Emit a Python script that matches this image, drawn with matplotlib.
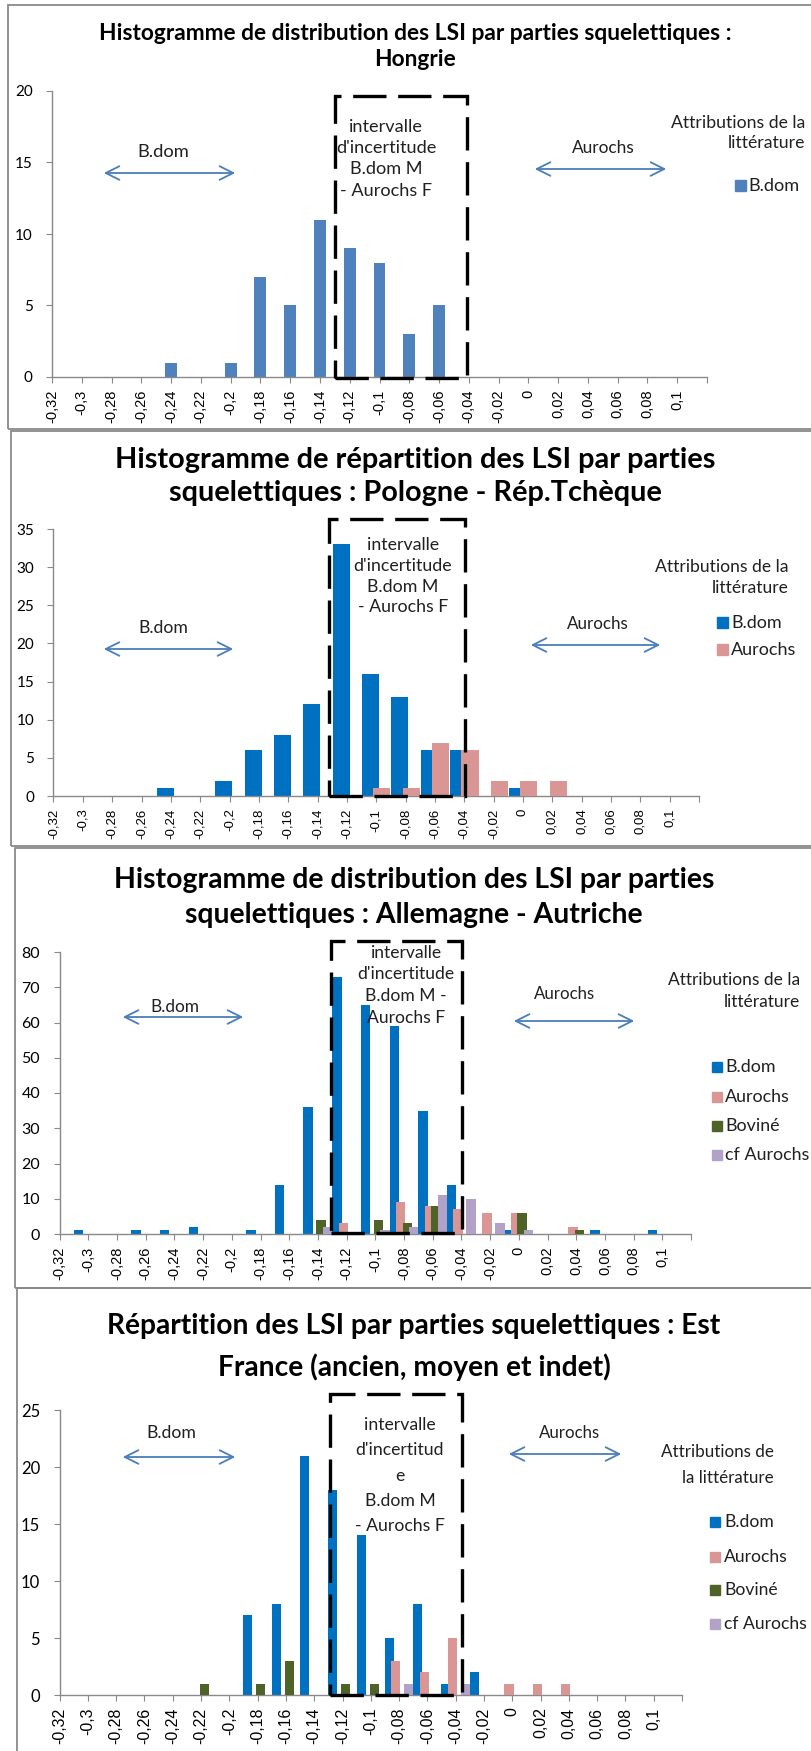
import matplotlib
matplotlib.use("Agg")
import matplotlib.pyplot as plt
from matplotlib.patches import Rectangle, FancyArrowPatch

# categories (LSI classes) and their tick labels
cats = [-0.32, -0.30, -0.28, -0.26, -0.24, -0.22, -0.20, -0.18, -0.16, -0.14, -0.12,
        -0.10, -0.08, -0.06, -0.04, -0.02, 0.00, 0.02, 0.04, 0.06, 0.08, 0.10]
tick_pos = cats + [0.12]
tick_labels = ["-0,32", "-0,3", "-0,28", "-0,26", "-0,24", "-0,22", "-0,2", "-0,18", "-0,16",
               "-0,14", "-0,12", "-0,1", "-0,08", "-0,06", "-0,04", "-0,02", "0", "0,02",
               "0,04", "0,06", "0,08", "0,1", ""]

# Hongrie
hu_bdom = [0, 0, 0, 0, 1, 0, 1, 7, 5, 11, 9, 8, 3, 5, 0, 0, 0, 0, 0, 0, 0, 0]
# Pologne - Rep. Tcheque
pl_bdom = [0, 0, 0, 0, 1, 0, 2, 6, 8, 12, 33, 16, 13, 6, 6, 0, 1, 0, 0, 0, 0, 0]
pl_aur = [0, 0, 0, 0, 0, 0, 0, 0, 0, 0, 0, 1, 1, 7, 6, 2, 2, 2, 0, 0, 0, 0]
# Allemagne - Autriche
de_bdom = [0, 1, 0, 1, 1, 2, 0, 1, 14, 36, 73, 65, 59, 35, 14, 0, 1, 0, 0, 1, 0, 1]
de_aur = [0, 0, 0, 0, 0, 0, 0, 0, 0, 0, 3, 0, 9, 8, 7, 6, 6, 0, 2, 0, 0, 0]
de_bov = [0, 0, 0, 0, 0, 0, 0, 0, 0, 4, 0, 4, 3, 8, 0, 0, 6, 0, 1, 0, 0, 0]
de_cf = [0, 0, 0, 0, 0, 0, 0, 0, 0, 2, 0, 1, 2, 11, 10, 3, 1, 0, 0, 0, 0, 0]
# Est France
fr_bdom = [0, 0, 0, 0, 0, 0, 0, 7, 8, 21, 18, 14, 5, 8, 1, 2, 0, 0, 0, 0, 0, 0]
fr_aur = [0, 0, 0, 0, 0, 0, 0, 0, 0, 0, 0, 0, 3, 2, 5, 0, 1, 1, 1, 0, 0, 0]
fr_bov = [0, 0, 0, 0, 0, 1, 0, 1, 3, 0, 1, 1, 0, 0, 0, 0, 0, 0, 0, 0, 0, 0]
fr_cf = [0, 0, 0, 0, 0, 0, 0, 0, 0, 0, 0, 0, 1, 0, 1, 0, 0, 0, 0, 0, 0, 0]

series_names = ["B.dom", "Aurochs", "Boviné", "cf Aurochs"]
colors = ["#0070C0", "#D99694", "#4F6228", "#B3A2C7"]

W, H = 812, 1751
fig = plt.figure(figsize=(W / 100, H / 100), dpi=100)
plt.rcParams['font.family'] = ['Lato', 'DejaVu Sans']
GREY = "#898989"
ARROW = "#4A7EBB"


def fx(x):
    return x / W


def fy(y):
    return 1 - y / H


def put(x, y, s, w=None, size=11, **kw):
    t = fig.text(fx(x), fy(y), s, fontsize=size, va="center", **kw)
    if w:
        bb = t.get_window_extent(fig.canvas.get_renderer())
        t.set_fontsize(size * w / bb.width)
    return t


def panel(p):
    # chart frame
    fig.patches.append(Rectangle((fx(p["frame"][0]), fy(p["frame"][3])),
                                 fx(p["frame"][2] - p["frame"][0]),
                                 (p["frame"][3] - p["frame"][1]) / H,
                                 transform=fig.transFigure, fill=False,
                                 edgecolor=GREY, lw=1.3, zorder=0))
    l, t, r, b = p["plot"]
    ax = fig.add_axes([fx(l), fy(b), fx(r - l), (b - t) / H])
    n = len(p["series"])
    for k, vals in enumerate(p["series"]):
        off = (k - (n - 1) / 2) * p["step"] * 0.02
        ax.bar([c + off for c in cats], vals, width=p["bw"] * 0.02,
               color=p["colors"][k], zorder=2 + k)
    ax.set_xlim(-0.32, 0.12)
    ax.set_ylim(0, p["ymax"])
    ax.set_yticks(range(0, p["ymax"] + 1, p["ystep"]))
    ax.set_xticks(tick_pos)
    ax.set_xticklabels(tick_labels, rotation=90, family="Liberation Sans",
                       fontsize=p["xfs"])
    for s in ["top", "right"]:
        ax.spines[s].set_visible(False)
    for s in ["left", "bottom"]:
        ax.spines[s].set_color(GREY)
        ax.spines[s].set_linewidth(1.0)
    ax.tick_params(axis="y", direction="out", length=4, color=GREY, labelsize=p["yfs"], pad=10)
    ax.tick_params(axis="x", direction="out", length=4, color=GREY, pad=5)
    ax.patch.set_alpha(0)

    # title
    tx, ty1, ty2 = p["title_pos"]
    t1 = put(tx, ty1, p["title"][0], w=p["title_w"], size=14, ha="center", weight="bold")
    put(tx, ty2, p["title"][1], size=t1.get_fontsize(), ha="center", weight="bold")

    # B.dom / Aurochs arrows
    for (lab, (cx, cy, w), (x0, x1, ay)) in zip(["B.dom", "Aurochs"], p["labels"], p["arrows"]):
        put(cx, cy, lab, w=w, ha="center", color="#202020")
        fig.patches.append(FancyArrowPatch((fx(x0), fy(ay)), (fx(x1), fy(ay)),
                                           transform=fig.transFigure,
                                           arrowstyle="<->,head_length=0.7,head_width=0.35",
                                           mutation_scale=14, color=ARROW, lw=1.3, zorder=5))

    # uncertainty interval box
    x0, y0, x1, y1 = p["box"]
    fig.patches.append(Rectangle((fx(x0), fy(y1)), fx(x1 - x0), (y1 - y0) / H,
                                 transform=fig.transFigure, fill=False, edgecolor="black",
                                 lw=2.4, linestyle=(0, (10, 3.5)), zorder=10))
    cx, ys, wref = p["box_text"]
    ref = put(cx, ys[1], p["box_lines"][1], w=wref, ha="center", color="#202020", zorder=11)
    for i, (line, y) in enumerate(zip(p["box_lines"], ys)):
        if i != 1:
            put(cx, y, line, size=ref.get_fontsize(), ha="center", color="#202020", zorder=11)

    # legend
    rx, ya, yb, wa = p["attr"]
    at = put(rx, ya, p["attr_lines"][0], w=wa, ha="right", color="#202020")
    put(rx, yb, p["attr_lines"][1], size=at.get_fontsize(), ha="right", color="#202020")
    sx0, sx1, tx0, lys = p["legend"]
    for k, y in enumerate(lys):
        sz = sx1 - sx0
        fig.patches.append(Rectangle((fx(sx0), fy(y + sz / 2)), fx(sz), sz / H,
                                     transform=fig.transFigure, color=p["colors"][k]))
        put(tx0, y, series_names[k], size=at.get_fontsize() * 1.03, ha="left", color="#202020")


panels = [
    dict(frame=(8, 5, 830, 429), plot=(52, 91, 707, 377), ymax=20, ystep=5,
         series=[hu_bdom], colors=["#4F81BD"], step=0.0, bw=0.40, xfs=10.5, yfs=11,
         title=["Histogramme de distribution des LSI par parties squelettiques :", "Hongrie"],
         title_pos=(415, 33, 60), title_w=639,
         labels=[(163, 152, 52), (603, 148, 63)],
         arrows=[(101, 238, 173), (532, 669, 169)],
         box=(335, 96, 467, 378),
         box_lines=["intervalle", "d'incertitude", "B.dom M", "- Aurochs F"],
         box_text=(386, [127, 148, 169, 191], 100),
         attr=(805, 123, 143, 134), attr_lines=["Attributions de la", "littérature"],
         legend=(735, 746, 748, [186])),
    dict(frame=(11, 431, 830, 846), plot=(53.5, 529, 699, 796), ymax=35, ystep=5,
         series=[pl_bdom, pl_aur], colors=colors, step=0.39, bw=0.58, xfs=9.5, yfs=11,
         title=["Histogramme de répartition des LSI par parties",
                "squelettiques : Pologne - Rép.Tchèque"],
         title_pos=(415, 460, 493), title_w=602,
         labels=[(163, 628, 50), (598, 624, 62)],
         arrows=[(101, 236, 649), (528, 663, 645)],
         box=(329, 519, 465, 796),
         box_lines=["intervalle", "d'incertitude", "B.dom M", "- Aurochs F"],
         box_text=(403, [545, 566, 587, 607], 98),
         attr=(789, 567, 588, 133), attr_lines=["Attributions de la", "littérature"],
         legend=(717, 728, 731, [623, 650])),
    dict(frame=(15.5, 848, 830, 1288), plot=(59.6, 952, 691, 1234), ymax=80, ystep=10,
         series=[de_bdom, de_aur, de_bov, de_cf], colors=colors, step=0.226, bw=0.33,
         xfs=10.5, yfs=11.5,
         title=["Histogramme de distribution des LSI par parties",
                "squelettiques : Allemagne - Autriche"],
         title_pos=(414, 880, 915), title_w=603,
         labels=[(175, 1007, 49), (565, 994, 61)],
         arrows=[(120, 246, 1017), (511, 637, 1021)],
         box=(331, 941, 462, 1233),
         box_lines=["intervalle", "d'incertitude", "B.dom M -", "Aurochs F"],
         box_text=(406, [953, 974, 996, 1018], 97),
         attr=(800, 980, 1002, 132), attr_lines=["Attributions de la", "littérature"],
         legend=(712, 722, 725, [1067, 1097, 1126, 1155])),
    dict(frame=(17, 1288, 830, 1770), plot=(59.6, 1410, 682, 1695), ymax=25, ystep=5,
         series=[fr_bdom, fr_aur, fr_bov, fr_cf], colors=colors, step=0.23, bw=0.32,
         xfs=11.5, yfs=12,
         title=["Répartition des LSI par parties squelettiques : Est",
                "France (ancien, moyen et indet)"],
         title_pos=(414, 1326, 1367), title_w=616,
         labels=[(171, 1433, 50), (570, 1433, 61)],
         arrows=[(120, 238, 1457), (506, 624, 1454)],
         box=(330, 1394, 462, 1695),
         box_lines=["intervalle", "d'incertitud", "e", "B.dom M", "- Aurochs F"],
         box_text=(400, [1425, 1450, 1476, 1501, 1526], 88),
         attr=(774, 1452, 1478, 112), attr_lines=["Attributions de", "la littérature"],
         legend=(710, 720, 724, [1522, 1557, 1590, 1624])),
]

for p in panels:
    panel(p)

fig.savefig("out.png", dpi=100)
